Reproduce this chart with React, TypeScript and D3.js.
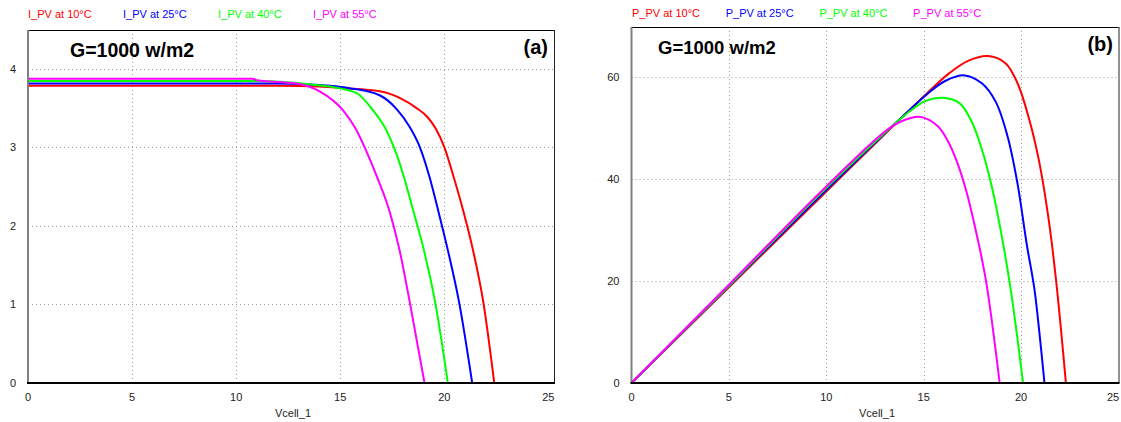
import { useRef, useEffect } from "react";
import * as d3 from "d3";

// series labels / colours
const temps = ["10°C", "25°C", "40°C", "55°C"];
const colors = ["#ff0000", "#0000ff", "#00ff00", "#ff00ff"];

// I-V curves (Vcell_1, I_PV)
const ivV10 = [0, 12, 14, 15.13, 16.89, 17.9, 18.65, 19.2, 19.6, 20.0, 20.45, 20.9, 21.37, 21.88, 22.4];
const ivI10 = [3.78, 3.78, 3.77, 3.75, 3.71, 3.62, 3.5, 3.38, 3.23, 3.0, 2.62, 2.2, 1.7, 1.02, 0];
const ivV25 = [0, 12, 14.5, 15.45, 16.89, 17.69, 18.33, 18.81, 19.29, 19.7, 20.17, 20.73, 21.34];
const ivI25 = [3.81, 3.81, 3.78, 3.75, 3.66, 3.49, 3.26, 3.01, 2.62, 2.2, 1.69, 1.0, 0];
const ivV40 = [0, 11, 13.5, 14.49, 15.77, 16.57, 17.21, 17.69, 18.06, 18.5, 19.02, 19.58, 20.17];
const ivI40 = [3.84, 3.84, 3.8, 3.77, 3.69, 3.47, 3.22, 2.92, 2.62, 2.2, 1.69, 1.0, 0];
const ivV55 = [0, 10.8, 11, 12.89, 14.01, 15.13, 15.77, 16.3, 16.8, 17.35, 17.85, 18.36, 19.05];
const ivI55 = [3.87, 3.87, 3.85, 3.81, 3.71, 3.47, 3.22, 2.92, 2.6, 2.2, 1.69, 1.0, 0];

// P-V curves (Vcell_1, P_PV)
const pvV10 = [0, 5, 10, 15.2, 16.3, 17.3, 18.3, 19.2, 19.8, 20.4, 20.9, 21.4, 21.8, 22.3];
const pvP10 = [0, 18.8, 37.6, 57.0, 60.8, 63.3, 64.2, 62.8, 59.0, 52.0, 44.0, 32.5, 20, 0];
const pvV25 = [0, 5, 10, 15.2, 16.1, 17.1, 18.0, 18.7, 19.3, 19.8, 20.3, 20.7, 21.2];
const pvP25 = [0, 19.0, 37.9, 56.8, 59.3, 60.4, 58.8, 55.2, 48.5, 39.5, 27.0, 18.0, 0];
const pvV40 = [0, 5, 10, 14.3, 15.1, 16.0, 16.85, 17.5, 18.0, 18.5, 19.0, 19.5, 20.1];
const pvP40 = [0, 19.1, 38.3, 53.4, 55.4, 56.0, 54.9, 51.0, 45.7, 38.5, 29.0, 17.5, 0];
const pvV55 = [0, 5, 10, 13.3, 14.3, 14.9, 15.7, 16.2, 16.7, 17.2, 17.7, 18.2, 18.9];
const pvP55 = [0, 19.3, 38.6, 50.2, 52.0, 52.2, 50.5, 47.8, 43.5, 37.5, 29.5, 20, 0];

const xTicks = [0, 5, 10, 15, 20, 25];
const iTicks = [0, 1, 2, 3, 4];
const pTicks = [0, 20, 40, 60];

const zip = (xs: number[], ys: number[]) => xs.map((x, i) => [x, ys[i]] as [number, number]);

const FONT = "'Liberation Sans', Arial, sans-serif";

type PanelCfg = {
  left: number; right: number; top: number; bottom: number;
  xMax: number; yMax: number; yTicks: number[]; curve: d3.CurveFactory;
  series: [number, number][][]; prefix: string; legendX: number; legendStep: number; legendY: number;
  tag: string; tagX: number; tagY: number; gX: number; gY: number; gSize: number;
};

function drawPanel(svg: d3.Selection<SVGSVGElement, unknown, null, undefined>, c: PanelCfg) {
  const x = d3.scaleLinear().domain([0, c.xMax]).range([c.left, c.right]);
  const y = d3.scaleLinear().domain([0, c.yMax]).range([c.bottom, c.top]);
  const g = svg.append("g");

  // dotted grid
  g.selectAll(".vg")
    .data(xTicks.filter((t) => t > 0 && t < 25))
    .join("line")
    .attr("x1", (d) => Math.round(x(d)) + 0.5).attr("x2", (d) => Math.round(x(d)) + 0.5)
    .attr("y1", c.top).attr("y2", c.bottom)
    .attr("stroke", "#9a9a9a").attr("stroke-dasharray", "1,3");
  g.selectAll(".hg")
    .data(c.yTicks.filter((t) => t > 0))
    .join("line")
    .attr("y1", (d) => Math.round(y(d)) + 0.5).attr("y2", (d) => Math.round(y(d)) + 0.5)
    .attr("x1", c.left).attr("x2", c.right)
    .attr("stroke", "#9a9a9a").attr("stroke-dasharray", "1,3");

  // frame
  g.append("line").attr("x1", c.left).attr("x2", c.right).attr("y1", c.top + 0.5).attr("y2", c.top + 0.5).attr("stroke", "#000");
  g.append("line").attr("x1", c.right + 0.5).attr("x2", c.right + 0.5).attr("y1", c.top).attr("y2", c.bottom).attr("stroke", "#222");

  // curves
  const line = d3.line<[number, number]>()
    .x((d) => x(d[0]))
    .y((d) => y(d[1]))
    .curve(c.curve);
  g.selectAll(".curve")
    .data(c.series)
    .join("path")
    .attr("d", (d) => line(d))
    .attr("fill", "none")
    .attr("stroke", (_, i) => colors[i])
    .attr("stroke-width", 2);

  g.append("line").attr("x1", c.left).attr("x2", c.left).attr("y1", c.top).attr("y2", c.bottom).attr("stroke", "#808080").attr("stroke-width", 2);
  g.append("line").attr("x1", c.left - 1).attr("x2", c.right + 1).attr("y1", c.bottom).attr("y2", c.bottom).attr("stroke", "#000").attr("stroke-width", 2);

  // tick labels
  g.selectAll(".xt")
    .data(xTicks)
    .join("text")
    .attr("x", (d) => Math.min(x(d), 1113))
    .attr("y", c.bottom + 18)
    .attr("text-anchor", "middle")
    .attr("font-size", 11).attr("font-family", FONT).attr("fill", "#222")
    .text((d) => d);
  g.selectAll(".yt")
    .data(c.yTicks)
    .join("text")
    .attr("x", c.left - 12)
    .attr("y", (d) => y(d) + 4)
    .attr("text-anchor", "end")
    .attr("font-size", 11).attr("font-family", FONT).attr("fill", "#222")
    .text((d) => d);

  g.append("text")
    .attr("x", (c.left + c.right) / 2 + 2).attr("y", 417)
    .attr("text-anchor", "middle")
    .attr("font-size", 11).attr("font-family", FONT).attr("fill", "#222")
    .text("Vcell_1");

  // legend
  g.selectAll(".lg")
    .data(temps)
    .join("text")
    .attr("x", (_, i) => c.legendX + i * c.legendStep)
    .attr("y", c.legendY)
    .attr("font-size", 11).attr("font-family", FONT)
    .attr("fill", (_, i) => colors[i])
    .text((d) => `${c.prefix} at ${d}`);

  g.append("text").attr("x", c.gX).attr("y", c.gY)
    .attr("font-size", c.gSize).attr("font-weight", "bold").attr("font-family", FONT)
    .text("G=1000 w/m2");
  g.append("text").attr("x", c.tagX).attr("y", c.tagY).attr("text-anchor", "end")
    .attr("font-size", 20).attr("font-weight", "bold").attr("font-family", FONT)
    .text(c.tag);
}

export default function App() {
  const svgRef = useRef<SVGSVGElement>(null);

  useEffect(() => {
    const svg = d3.select(svgRef.current!);
    svg.selectAll("*").remove();
    svg.append("rect").attr("width", 1121).attr("height", 422).attr("fill", "#fff");

    drawPanel(svg, {
      left: 28, right: 554, top: 30, bottom: 383, xMax: 25.27, yMax: 4.49, yTicks: iTicks,
      curve: d3.curveMonotoneX,
      series: [zip(ivV10, ivI10), zip(ivV25, ivI25), zip(ivV40, ivI40), zip(ivV55, ivI55)],
      prefix: "I_PV", legendX: 28, legendStep: 95, legendY: 18,
      tag: "(a)", tagX: 548, tagY: 54, gX: 70, gY: 57, gSize: 19.5,
    });
    drawPanel(svg, {
      left: 631.5, right: 1118.5, top: 27, bottom: 383, xMax: 25, yMax: 69.9, yTicks: pTicks,
      curve: d3.curveCatmullRom.alpha(0.5),
      series: [zip(pvV10, pvP10), zip(pvV25, pvP25), zip(pvV40, pvP40), zip(pvV55, pvP55)],
      prefix: "P_PV", legendX: 632, legendStep: 93.7, legendY: 17,
      tag: "(b)", tagX: 1113, tagY: 51, gX: 658, gY: 54, gSize: 18.5,
    });
  }, []);

  return (
    <svg
      ref={svgRef}
      width={1121}
      height={422}
      style={{ position: "absolute", left: 0, top: 0, display: "block" }}
    />
  );
}
